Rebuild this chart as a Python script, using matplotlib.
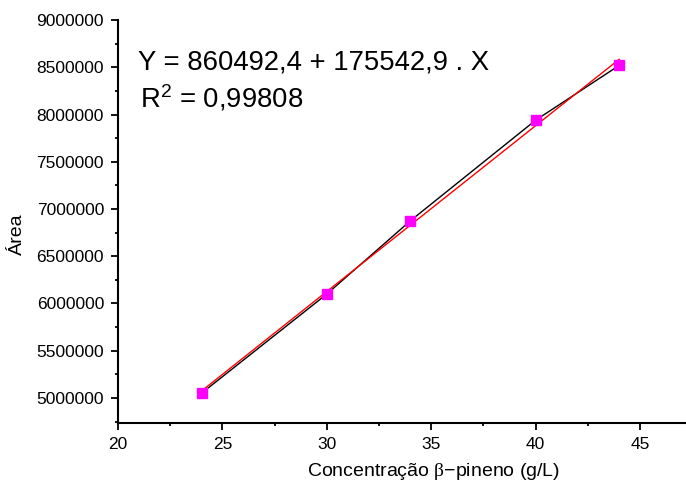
import numpy as np
import matplotlib.pyplot as plt
from matplotlib.ticker import MultipleLocator

plt.rcParams['font.family'] = ['Liberation Sans', 'DejaVu Sans']
plt.rcParams['mathtext.fontset'] = 'custom'
plt.rcParams['mathtext.rm'] = 'Liberation Sans'
plt.rcParams['mathtext.it'] = 'Liberation Sans:italic'
plt.rcParams['mathtext.sf'] = 'Liberation Serif'

# pontos experimentais
conc = [24, 30, 34, 40, 44]
area = [5050000, 6100000, 6875000, 7940000, 8520000]

# ajuste linear
a = 860492.4
b = 175542.9
r2 = 0.99808

fig = plt.figure(figsize=(6.86, 4.82), dpi=100)
ax = fig.add_axes([0.172, 0.1224, 0.828, 0.836])

xfit = np.array([conc[0], conc[-1]])
ax.plot(conc, area, color='black', lw=1.0, zorder=2)
ax.plot(xfit, a + b * xfit, color='red', lw=1.0, zorder=3)
ax.plot(conc, area, ls='none', marker='s', ms=6.5, color='magenta', zorder=4)

ax.set_xlim(20, 47.2)
ax.set_ylim(4735000, 9000000)
ax.xaxis.set_major_locator(MultipleLocator(5))
ax.xaxis.set_minor_locator(MultipleLocator(2.5))
ax.yaxis.set_major_locator(MultipleLocator(500000))
ax.yaxis.set_minor_locator(MultipleLocator(250000))
ax.ticklabel_format(axis='y', style='plain', useOffset=False)

for s in ['top', 'right']:
    ax.spines[s].set_visible(False)
for s in ['left', 'bottom']:
    ax.spines[s].set_linewidth(1.5)
ax.tick_params(which='major', direction='out', length=5, width=1.3, labelsize=12.5, pad=5)
ax.tick_params(which='minor', direction='out', length=2.5, width=1.3)

ax.set_xlabel(r'Concentração $\mathsf{\beta}$−pineno (g/L)', fontsize=14)
ax.set_ylabel('Área', fontsize=14)
ax.xaxis.set_label_coords(0.555, -0.095)
ax.yaxis.set_label_coords(-0.162, 0.469)

ax.text(0.035, 0.878, 'Y = 860492,4 + 175542,9 . X', transform=ax.transAxes,
        fontsize=19.8, va='baseline')
ax.text(0.039, 0.782, 'R$^2$ = 0,99808', transform=ax.transAxes,
        fontsize=19.8, va='baseline')

fig.savefig('out.png', dpi=100)
